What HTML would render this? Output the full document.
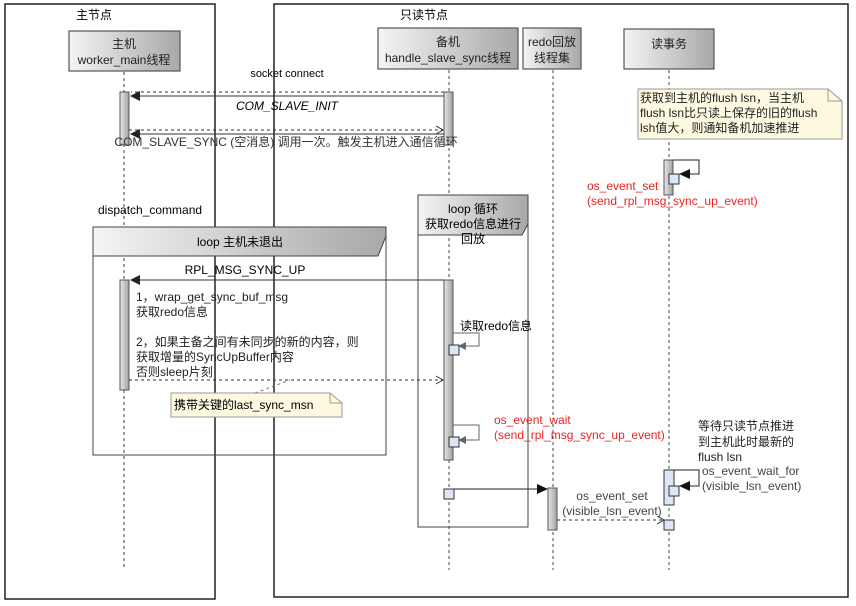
<!DOCTYPE html>
<html><head><meta charset="utf-8"><style>
html,body{margin:0;padding:0;background:#fff;}
svg{display:block;font-family:"Liberation Sans","Noto Sans CJK SC",sans-serif;}
</style></head><body>
<svg width="856" height="606" viewBox="0 0 856 606" xmlns="http://www.w3.org/2000/svg">
<defs>
<linearGradient id="g" x1="0" y1="0" x2="1" y2="0"><stop offset="0" stop-color="#f4f4f4"/><stop offset="1" stop-color="#a8a8a8"/></linearGradient>
<linearGradient id="ga" x1="0" y1="0" x2="1" y2="0"><stop offset="0" stop-color="#e8e8e8"/><stop offset="1" stop-color="#a0a0a0"/></linearGradient>
</defs>
<rect width="856" height="606" fill="#fff"/>
<!-- frames -->
<rect x="5" y="4" width="210" height="595" fill="none" stroke="#222" stroke-width="1.5"/>
<rect x="274" y="4" width="574" height="593" fill="none" stroke="#222" stroke-width="1.5"/>
<text x="76" y="19" font-size="12">主节点</text>
<text x="400" y="19" font-size="12">只读节点</text>
<!-- lifelines -->
<g stroke="#444" stroke-dasharray="3,3" stroke-width="1">
<line x1="124" y1="72" x2="124" y2="570"/>
<line x1="449" y1="70" x2="449" y2="570"/>
<line x1="553" y1="70" x2="553" y2="570"/>
<line x1="669" y1="70" x2="669" y2="570"/>
</g>
<!-- heads -->
<g stroke="#555" stroke-width="1.2" fill="url(#g)">
<rect x="69" y="31" width="111" height="40"/>
<rect x="378" y="28" width="140" height="41"/>
<rect x="523" y="28" width="58" height="41"/>
<rect x="624" y="29" width="90" height="40"/>
</g>
<g font-size="12" text-anchor="middle" fill="#222">
<text x="124" y="48">主机</text><text x="124" y="64">worker_main线程</text>
<text x="448" y="46">备机</text><text x="448" y="62">handle_slave_sync线程</text>
<text x="552" y="46">redo回放</text><text x="552" y="62">线程集</text>
<text x="669" y="48">读事务</text>
</g>
<!-- loops -->
<rect x="93" y="227" width="293" height="228" fill="none" stroke="#444"/>
<path d="M93 227 H386 V236 L378 256 H93 Z" fill="url(#g)" stroke="#444"/>
<text x="240" y="246" font-size="12" text-anchor="middle">loop 主机未退出</text>
<rect x="418" y="195" width="110" height="332" fill="none" stroke="#444"/>
<path d="M418 195 H528 V224 L522 235 H418 Z" fill="url(#g)" stroke="#444"/>
<g font-size="12" text-anchor="middle"><text x="473" y="213">loop 循环</text><text x="473" y="228">获取redo信息进行</text><text x="473" y="243">回放</text></g>
<!-- activations -->
<g stroke="#555" fill="url(#ga)">
<rect x="120" y="92" width="9" height="53"/>
<rect x="444" y="92" width="9" height="53"/>
<rect x="120" y="280" width="9" height="110"/>
<rect x="444" y="280" width="9" height="180"/>
<rect x="548" y="488" width="9" height="42"/>
<rect x="664" y="160" width="9" height="35"/>
</g>
<rect x="664" y="470" width="10" height="35" fill="#dce6f5" stroke="#333"/>
<!-- messages -->
<text x="287" y="77" font-size="11" text-anchor="middle">socket connect</text>
<line x1="444" y1="92" x2="131" y2="92" stroke="#333" stroke-dasharray="3,3"/>
<line x1="444" y1="96" x2="140" y2="96" stroke="#333"/>
<path d="M130 96 L140 91 L140 101 Z" fill="#222"/>
<text x="287" y="110" font-size="12" font-style="italic" text-anchor="middle">COM_SLAVE_INIT</text>
<line x1="129" y1="130" x2="442" y2="130" stroke="#333" stroke-dasharray="3,3"/>
<path d="M436 126 L443 130 L436 134" fill="none" stroke="#333"/>
<line x1="444" y1="134" x2="140" y2="134" stroke="#333"/>
<path d="M130 134 L140 129 L140 139 Z" fill="#222"/>
<text x="286" y="146" font-size="12" text-anchor="middle" fill="#333">COM_SLAVE_SYNC (空消息) 调用一次。触发主机进入通信循环</text>
<text x="98" y="214" font-size="12">dispatch_command</text>
<text x="245" y="274" font-size="12" text-anchor="middle">RPL_MSG_SYNC_UP</text>
<line x1="444" y1="280" x2="140" y2="280" stroke="#333"/>
<path d="M130 280 L140 275 L140 285 Z" fill="#222"/>
<g font-size="12" fill="#222">
<text x="136" y="301">1，wrap_get_sync_buf_msg</text>
<text x="136" y="316">获取redo信息</text>
<text x="136" y="346">2，如果主备之间有未同步的新的内容，则</text>
<text x="136" y="361">获取增量的SyncUpBuffer内容</text>
<text x="136" y="376">否则sleep片刻</text>
</g>
<line x1="129" y1="380" x2="442" y2="380" stroke="#333" stroke-dasharray="3,3"/>
<path d="M436 376 L443 380 L436 384" fill="none" stroke="#333"/>
<line x1="255" y1="393" x2="290" y2="380" stroke="#777" stroke-dasharray="3,3"/>
<path d="M171 393 H330 L342 403 V417 H171 Z" fill="#fdf8e0" stroke="#999"/>
<path d="M330 393 V403 H342" fill="none" stroke="#999"/>
<text x="174" y="409" font-size="12">携带关键的last_sync_msn</text>
<!-- read redo self loop -->
<text x="460" y="330" font-size="12">读取redo信息</text>
<path d="M453 333 H479 V346 H462" fill="none" stroke="#666"/>
<path d="M458 346 L466 342 L466 350 Z" fill="#666"/>
<rect x="449" y="345" width="10" height="10" fill="#dce6f5" stroke="#333"/>
<text x="494" y="424" font-size="12" fill="#e22">os_event_wait</text>
<text x="494" y="439" font-size="12" fill="#e22">(send_rpl_msg_sync_up_event)</text>
<path d="M453 425 H479 V440 H462" fill="none" stroke="#666"/>
<path d="M458 440 L466 436 L466 444 Z" fill="#666"/>
<rect x="449" y="437" width="10" height="10" fill="#dce6f5" stroke="#333"/>
<rect x="444" y="489" width="10" height="10" fill="#dce6f5" stroke="#333"/>
<line x1="454" y1="489" x2="538" y2="489" stroke="#222"/>
<path d="M548 489 L537 484 L537 494 Z" fill="#111"/>
<text x="612" y="500" font-size="12" text-anchor="middle" fill="#444">os_event_set</text>
<text x="612" y="515" font-size="12" text-anchor="middle" fill="#444">(visible_lsn_event)</text>
<line x1="557" y1="520" x2="663" y2="520" stroke="#333" stroke-dasharray="3,3"/>
<path d="M657 516 L664 520 L657 524" fill="none" stroke="#333"/>
<rect x="664" y="520" width="10" height="10" fill="#dce6f5" stroke="#333"/>
<!-- read txn note -->
<path d="M638 89 H828 L842 101 V139 H638 Z" fill="#fdf8e0" stroke="#999"/>
<path d="M828 89 V101 H842" fill="none" stroke="#999"/>
<g font-size="12" fill="#222"><text x="640" y="102">获取到主机的flush lsn，当主机</text><text x="640" y="117">flush lsn比只读上保存的旧的flush</text><text x="640" y="132">lsh值大，则通知备机加速推进</text></g>
<path d="M673 160 H699 V174 H684" fill="none" stroke="#222"/>
<path d="M679 174 L690 169 L690 179 Z" fill="#111"/>
<rect x="669" y="174" width="10" height="10" fill="#dce6f5" stroke="#333"/>
<text x="587" y="190" font-size="12" fill="#e22">os_event_set</text>
<text x="587" y="205" font-size="12" fill="#e22">(send_rpl_msg_sync_up_event)</text>
<g font-size="12" fill="#222"><text x="698" y="430">等待只读节点推进</text><text x="698" y="446">到主机此时最新的</text><text x="698" y="461">flush lsn</text></g>
<path d="M674 470 H699 V486 H684" fill="none" stroke="#222"/>
<path d="M679 486 L690 481 L690 491 Z" fill="#111"/>
<rect x="669" y="486" width="10" height="10" fill="#dce6f5" stroke="#333"/>
<text x="702" y="475" font-size="12" fill="#444">os_event_wait_for</text>
<text x="702" y="490" font-size="12" fill="#444">(visible_lsn_event)</text>
</svg>
</body></html>
